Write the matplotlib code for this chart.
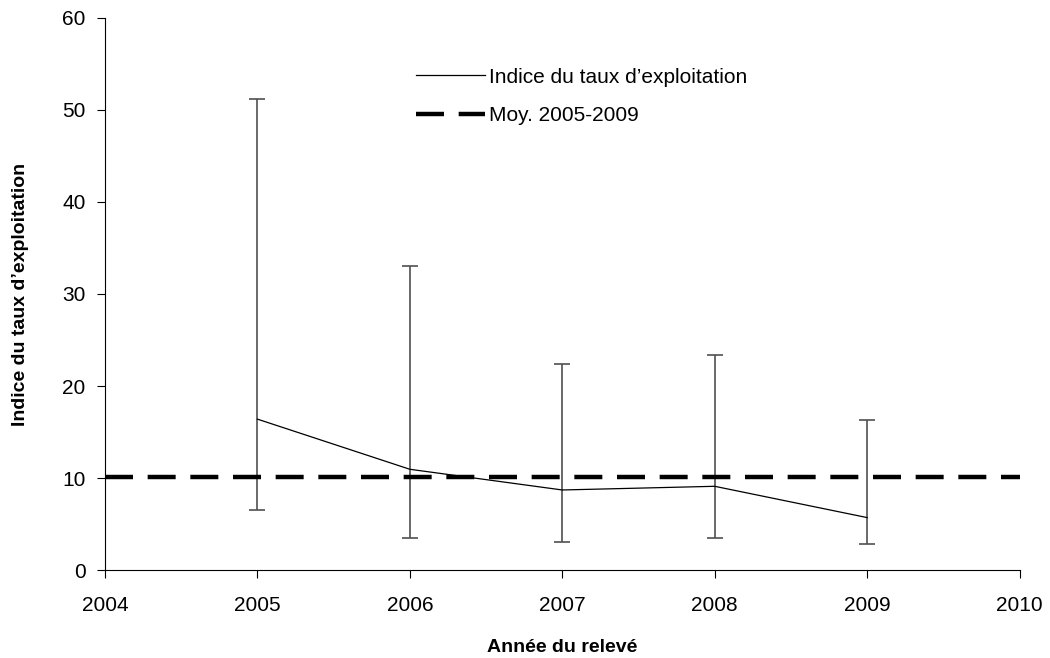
import numpy as np
import matplotlib
matplotlib.use("Agg")
from matplotlib import pyplot as plt

plt.rcParams['font.family'] = ['Liberation Sans', 'DejaVu Sans']

years = [2005, 2006, 2007, 2008, 2009]
indice = [16.4, 10.95, 8.7, 9.1, 5.7]
borne_inf = [6.5, 3.45, 3.05, 3.45, 2.85]
borne_sup = [51.2, 33.0, 22.4, 23.4, 16.3]
moyenne = 10.15

ind = np.array(indice)
err = [ind - np.array(borne_inf), np.array(borne_sup) - ind]

fig = plt.figure(figsize=(10.5, 6.58), dpi=100)
ax = fig.add_axes([0.1, 0.1337, 0.871, 0.839])

ax.errorbar(years, indice, yerr=err, fmt='none', ecolor='#505050',
            elinewidth=1.2, capsize=6, capthick=1.2)
ax.plot(years, indice, color='black', lw=0.9,
        label='Indice du taux d\u2019exploitation')
ax.axhline(moyenne, color='black', lw=3.2, dashes=(6.3, 3.3),
           label='Moy. 2005-2009')

ax.set_xlim(2004, 2010)
ax.set_ylim(0, 60)
ax.set_xticks(range(2004, 2011))
ax.set_yticks(range(0, 61, 10))
ax.tick_params(labelsize=15, length=6, direction='out')
ax.tick_params(axis='x', pad=13)
ax.tick_params(axis='y', pad=8)
for s in ('top', 'right'):
    ax.spines[s].set_visible(False)

ax.set_xlabel('Ann\u00e9e du relev\u00e9', fontsize=14, fontweight='bold', labelpad=17)
ax.set_ylabel('Indice du taux d\u2019exploitation', fontsize=14, fontweight='bold', labelpad=24)

ax.legend(loc='upper left', bbox_to_anchor=(0.32, 0.944), frameon=False,
          fontsize=15, handlelength=3.3, handletextpad=0.2, labelspacing=0.95)

fig.savefig('out.png', dpi=100)
